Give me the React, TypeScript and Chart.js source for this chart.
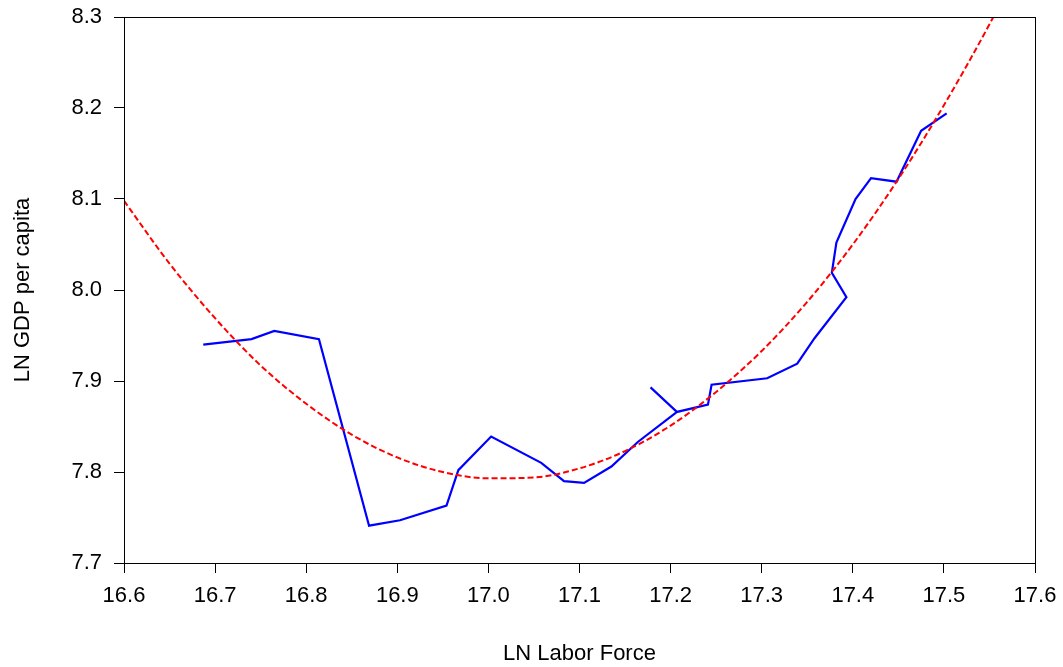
import React, { useEffect, useRef } from "react";
import { Chart, registerables } from "chart.js";

Chart.register(...registerables);

// Observed series: log labour force vs log GDP per capita, in time order
const laborForce = [
  16.687, 16.740, 16.765, 16.814, 16.869, 16.903, 16.954, 16.967, 17.003,
  17.058, 17.083, 17.105, 17.135, 17.164, 17.207, 17.178, 17.207, 17.241,
  17.245, 17.306, 17.339, 17.358, 17.393, 17.377, 17.382, 17.403, 17.420,
  17.448, 17.475, 17.503,
];
const gdpPerCapita = [
  7.940, 7.946, 7.955, 7.946, 7.741, 7.747, 7.763, 7.802, 7.839,
  7.810, 7.790, 7.788, 7.806, 7.833, 7.866, 7.893, 7.866, 7.874,
  7.896, 7.903, 7.919, 7.947, 7.992, 8.019, 8.052, 8.100, 8.123,
  8.119, 8.175, 8.194,
];

// Quadratic fit, sampled along the labour-force range
const fitX = [
  16.60, 16.65, 16.70, 16.75, 16.80, 16.85, 16.90, 16.95, 17.00, 17.05, 17.10,
  17.15, 17.20, 17.25, 17.30, 17.35, 17.40, 17.45, 17.50, 17.55, 17.60,
];
const fitY = [
  8.098, 8.029, 7.969, 7.917, 7.875, 7.841, 7.816, 7.800, 7.793, 7.794, 7.804,
  7.823, 7.851, 7.888, 7.933, 7.987, 8.050, 8.122, 8.203, 8.292, 8.390,
];

const xTitle = "LN Labor Force";
const yTitle = "LN GDP per capita";

const FONT = "'Liberation Sans', Arial, Helvetica, sans-serif";

const framePlugin = {
  id: "frame",
  afterDatasetsDraw(chart: any) {
    const { ctx, chartArea } = chart;
    ctx.save();
    ctx.strokeStyle = "#000";
    ctx.lineWidth = 1;
    ctx.strokeRect(
      Math.round(chartArea.left) + 0.5,
      Math.round(chartArea.top) + 0.5,
      Math.round(chartArea.right - chartArea.left),
      Math.round(chartArea.bottom - chartArea.top)
    );
    ctx.restore();
  },
};

// Keep the plot area fixed: tick-label overhang is handled by layout padding
const clearScalePadding = (scale: any) => {
  scale.paddingTop = 0;
  scale.paddingBottom = 0;
  scale.paddingLeft = 0;
  scale.paddingRight = 0;
};

export default function App() {
  const canvasRef = useRef<HTMLCanvasElement | null>(null);

  useEffect(() => {
    if (!canvasRef.current) return;
    const observed = laborForce.map((x, i) => ({ x, y: gdpPerCapita[i] }));
    const fitted = fitX.map((x, i) => ({ x, y: fitY[i] }));

    const axisCommon = {
      type: "linear" as const,
      grid: {
        display: true,
        drawOnChartArea: false,
        drawTicks: true,
        tickLength: 10,
        color: "#000",
        lineWidth: 1,
      },
      border: { display: true, color: "#000", width: 1 },
    };

    const chart = new Chart(canvasRef.current, {
      type: "line",
      data: {
        datasets: [
          {
            data: fitted,
            borderColor: "#ff0000",
            borderWidth: 2,
            borderDash: [6, 3],
            pointRadius: 0,
            cubicInterpolationMode: "monotone",
            fill: false,
          },
          {
            data: observed,
            borderColor: "#0000ff",
            borderWidth: 2.2,
            pointRadius: 0,
            tension: 0,
            fill: false,
          },
        ],
      },
      options: {
        animation: false,
        responsive: false,
        maintainAspectRatio: false,
        parsing: false as any,
        layout: { padding: { left: 0, right: 28, top: 17, bottom: 0 } },
        plugins: {
          legend: { display: false },
          tooltip: { enabled: false },
        },
        scales: {
          x: {
            ...axisCommon,
            min: 16.6,
            max: 17.6,
            ticks: {
              stepSize: 0.1,
              color: "#000",
              padding: 10,
              maxRotation: 0,
              font: { family: FONT, size: 22 },
              callback: (v: any) => Number(v).toFixed(1),
            },
            title: {
              display: true,
              text: xTitle,
              color: "#000",
              font: { family: FONT, size: 22 },
              padding: { top: 0, bottom: 0 },
            },
            afterFit: (scale: any) => {
              scale.height = 104;
              clearScalePadding(scale);
            },
          },
          y: {
            ...axisCommon,
            min: 7.7,
            max: 8.3,
            ticks: {
              stepSize: 0.1,
              color: "#000",
              padding: 12,
              font: { family: FONT, size: 22 },
              callback: (v: any) => Number(v).toFixed(1),
            },
            title: {
              display: true,
              text: yTitle,
              color: "#000",
              font: { family: FONT, size: 22 },
              padding: { top: 10, bottom: 0 },
            },
            afterFit: (scale: any) => {
              scale.width = 124;
              clearScalePadding(scale);
            },
          },
        },
      },
      plugins: [framePlugin],
    } as any);

    return () => chart.destroy();
  }, []);

  return (
    <div
      style={{
        position: "fixed",
        left: 0,
        top: 0,
        width: 1063,
        height: 667,
        background: "#fff",
      }}
    >
      <canvas ref={canvasRef} width={1063} height={667} />
    </div>
  );
}
